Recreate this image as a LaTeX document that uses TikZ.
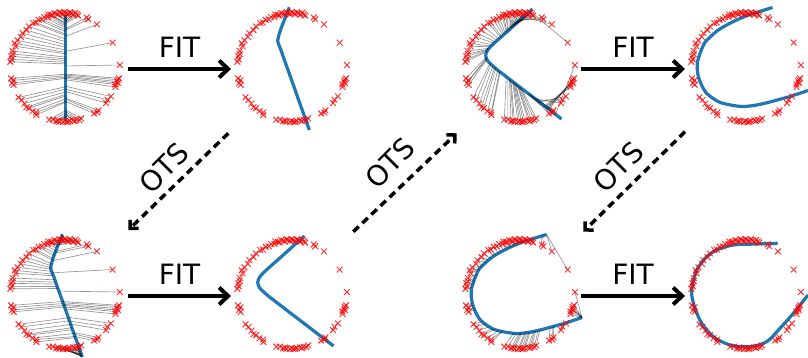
\documentclass[tikz,border=0pt]{standalone}
\usepackage{fontspec}
\setmainfont{DejaVu Sans}
\usetikzlibrary{arrows.meta}

\definecolor{fitblue}{HTML}{1F77B4}
\definecolor{sampred}{HTML}{FF0000}

% noisy samples on a circle: angle / radius
\newcommand\samplepts{112.3/55, 109/54, 107.3/56, 105/55, 103.6/54, 101/56, 99/55, 97.7/54,
  95.5/56, 94/55, 92/54, 90.4/56, 88.5/55, 86.8/54, 85/56, 83.2/55, 81/54, 79.5/56, 77.5/55,
  75.8/54, 66.8/55, 64.4/54, 53.8/54, 28.1/54, 3.1/55, -10.8/55, -12.5/54, -14.5/54, -16/55,
  -18.1/53, -20.6/54, -31.7/54, -36.7/53, -40.5/54, -51.8/54, -54/55, -57.4/54, -72.2/53,
  -74.6/54, -77.5/53, -79.5/54, -81.1/53, -84.8/53, -86.5/54, -88.5/54, -90.5/53, -92.2/54,
  -95.9/54, -97.5/53, -99.5/54, -103.2/53, -106.9/54, -121.4/55, -122.9/53, -126.9/54,
  -131.9/54, -134.5/55, -138.8/54, -143.7/54, -147.7/55, -161.9/54, -164.1/55, -166.5/53,
  -169.1/55, 173.5/55, 170.8/54, 167.7/55, 165/54, 162/55, 156.3/54, 153.9/56, 149.8/55,
  144.8/54, 140.7/55, 135.5/54, 131/55, 125.2/55, 122.7/54, 118.7/55, 115.5/54}

% vertices of the successive fitted curves (x list, y list)
\newcommand\axs{{0.7,0.7}}
\newcommand\ays{{53,-52.5}}
\newcommand\bxs{{-2.7,-5.6,-8.5,-11.4,-13.5,-14.3,-13.3,-10.6,-8.0,-5.3,-2.6,0.1,2.8,5.4,8.1,
  10.8,13.5,16.2,17.3}}
\newcommand\bys{{60.7,53.3,45.9,38.4,31.5,27.5,23.5,16.7,9.1,1.6,-5.9,-13.5,-21.0,-28.6,-36.1,
  -43.7,-51.2,-58.8,-62}}
\newcommand\cxs{{12.5,6.5,0.6,-5.4,-11.3,-17.3,-23.3,-28.8,-32.6,-34.3,-32.6,-28.8,-22.6,-16.3,
  -9.9,-3.6,2.8,9.1,15.5,21.8,28.2,34.5,41.5}}
\newcommand\cys{{59,53.7,48.4,43.0,37.7,32.4,27.1,22,17.5,12.5,7.5,3.5,-1.9,-6.7,-11.6,-16.5,
  -21.3,-26.2,-31.0,-35.9,-40.8,-45.6,-51}}
\newcommand\dxs{{26.5,13.2,0,-14,-27,-35,-42,-48.5,-47.5,-40.5,-28,-15.5,-3,9.5,22,33,44,62}}
\newcommand\dys{{60.5,56.4,52,45.8,38.5,31.8,24,6,-9,-24,-33.5,-37,-38.5,-37.2,-34.5,-31.5,
  -28.5,-22.5}}
\newcommand\exs{{31.7,10.7,-12.7,-29.3,-41,-49.3,-53.3,-54.3,-51,-44.3,-32.7,-16,4,20.7,34,
  47.3,62}}
\newcommand\eys{{51.7,51,50,45,36.7,25,11.7,0,-13.3,-28.3,-41.7,-50,-51.7,-46.7,-33.3,-18.3,0}}

% fitted curve through vertices 0..#3
\newcommand\fitted[3]{%
  \draw[fitcurve] plot[smooth, tension=0.5, samples at={0,...,#3}] ({#1[\x]},{#2[\x]});}

% transport plan: each sample is sent to the curve point with parameter #4 in [0,1]
\newcommand\otsplan[4]{%
  \foreach \a/\r in \samplepts {%
    \pgfmathsetmacro\tpar{#4}%
    \pgfmathsetmacro\spar{max(0,min(#3-0.001,\tpar*#3))}%
    \pgfmathtruncatemacro\ipar{floor(\spar)}%
    \pgfmathsetmacro\fpar{\spar-\ipar}%
    \pgfmathsetmacro\qx{#1[\ipar]*(1-\fpar)+#1[\ipar+1]*\fpar}%
    \pgfmathsetmacro\qy{#2[\ipar]*(1-\fpar)+#2[\ipar+1]*\fpar}%
    \draw[otsline] (\a:\r) -- (\qx,\qy);}}

\newcommand\drawsamples{%
  \foreach \a/\r in \samplepts {%
    \draw[sample] (\a:\r) ++(-2.9,-2.9) -- ++(5.8,5.8) ++(-5.8,0) -- ++(5.8,-5.8);}}

\tikzset{
  sample/.style={draw=sampred, line width=0.95pt, opacity=0.8},
  fitcurve/.style={draw=fitblue, line width=3.2pt},
  otsline/.style={draw=black, line width=0.65pt, opacity=0.42},
  fitarrow/.style={line width=4pt, -{Straight Barb[length=9pt,width=17pt]}},
  otsarrow/.style={line width=3.5pt, dash pattern=on 7.5pt off 5pt,
    -{Straight Barb[length=6pt,width=12pt]}},
  lbl/.style={font=\fontsize{28}{30}\selectfont, inner sep=0pt},
}

\begin{document}
\begin{tikzpicture}[x=1pt, y=1pt]
\useasboundingbox (0,0) rectangle (808,357);

% panel centres
\coordinate (p1) at (65,289);  \coordinate (p2) at (292,289);
\coordinate (p3) at (520,289); \coordinate (p4) at (746,289);
\coordinate (p5) at (65,62);   \coordinate (p6) at (292,62);
\coordinate (p7) at (520,62);  \coordinate (p8) at (746,62);

% panel 1: initial line with transport plan
\begin{scope}[shift={(p1)}]
  \fitted{\axs}{\ays}{1}
  \otsplan{\axs}{\ays}{1}{0.5-asin(sin(\a))/180}
  \drawsamples
\end{scope}

% panel 2: first fit
\begin{scope}[shift={(p2)}]
  \fitted{\bxs}{\bys}{18}
  \drawsamples
\end{scope}

% panel 5: first fit with transport plan
\begin{scope}[shift={(p5)}]
  \fitted{\bxs}{\bys}{18}
  \otsplan{\bxs}{\bys}{18}{0.5-asin(sin(\a))/180}
  \drawsamples
\end{scope}

% panel 6: second fit
\begin{scope}[shift={(p6)}]
  \fitted{\cxs}{\cys}{22}
  \drawsamples
\end{scope}

% panel 3: second fit with transport plan
\begin{scope}[shift={(p3)}]
  \fitted{\cxs}{\cys}{22}
  \otsplan{\cxs}{\cys}{22}{(mod(\a+345,360)/360)^1.2}
  \drawsamples
\end{scope}

% panel 4: third fit
\begin{scope}[shift={(p4)}]
  \fitted{\dxs}{\dys}{17}
  \drawsamples
\end{scope}

% panel 7: third fit with transport plan
\begin{scope}[shift={(p7)}]
  \fitted{\dxs}{\dys}{17}
  \otsplan{\dxs}{\dys}{17}{(mod(\a+345,360)-45)/280}
  \drawsamples
\end{scope}

% panel 8: final fit
\begin{scope}[shift={(p8)}]
  \fitted{\exs}{\eys}{16}
  \drawsamples
\end{scope}

% FIT steps
\coordinate (f1a) at (128,288); \coordinate (f1b) at (231,288);
\coordinate (f2a) at (581,288); \coordinate (f2b) at (685,288);
\coordinate (f3a) at (128,61);  \coordinate (f3b) at (231,61);
\coordinate (f4a) at (581,61);  \coordinate (f4b) at (685,61);
\draw[fitarrow] (f1a) -- (f1b);
\draw[fitarrow] (f2a) -- (f2b);
\draw[fitarrow] (f3a) -- (f3b);
\draw[fitarrow] (f4a) -- (f4b);
\node[lbl] (fitl1) at (179.5,310) {FIT};
\node[lbl] (fitl2) at (633,310) {FIT};
\node[lbl] (fitl3) at (179.5,83) {FIT};
\node[lbl] (fitl4) at (633,83) {FIT};

% OTS steps
\coordinate (o1a) at (228.3,223.7); \coordinate (o1b) at (128.3,127);
\coordinate (o2a) at (353.3,125.3); \coordinate (o2b) at (456.7,223.7);
\coordinate (o3a) at (685,225.3);   \coordinate (o3b) at (583.3,125.3);
\draw[otsarrow] (o1a) -- (o1b);
\draw[otsarrow] (o2a) -- (o2b);
\draw[otsarrow] (o3a) -- (o3b);
\node[lbl, rotate=45] (otsl1) at (164,189) {OTS};
\node[lbl, rotate=45] (otsl2) at (390,194) {OTS};
\node[lbl, rotate=45] (otsl3) at (618.3,190.3) {OTS};
\end{tikzpicture}
\end{document}
